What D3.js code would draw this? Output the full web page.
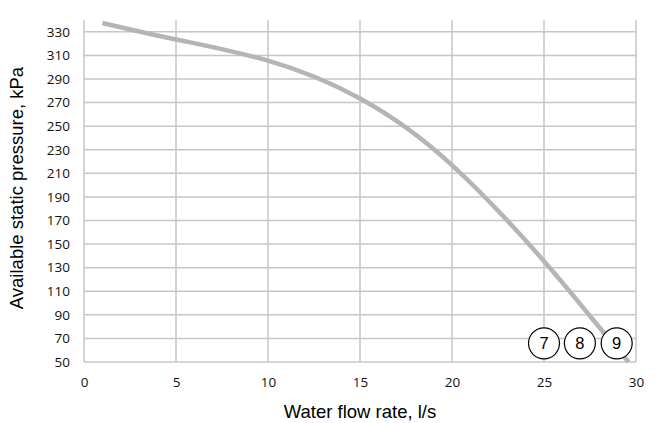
<!DOCTYPE html>
<html>
<head>
<meta charset="utf-8">
<script src="https://cdn.jsdelivr.net/npm/d3@7"></script>
<style>
  body { margin: 0; background: #fff; }
  text { font-family: "Liberation Sans", Arial, sans-serif; }
</style>
</head>
<body>
<script>
// pump curve
const flowRate = [1, 5, 10, 15, 20, 25, 27.5, 29.6];
const pressure = [337.5, 323.5, 305.5, 273.5, 217, 135.5, 89, 50];

const markLabels = ['7', '8', '9'];
const markFlow = [25, 26.95, 28.95];
const markPressure = [65.8, 65.8, 65.8];

const xTicks = [0, 5, 10, 15, 20, 25, 30];
const yTicks = [50, 70, 90, 110, 130, 150, 170, 190, 210, 230, 250, 270, 290, 310, 330];

const W = 656, H = 423;
const margin = { top: 20, right: 20, bottom: 61, left: 84 };

const svg = d3.select('body').append('svg')
  .attr('width', W)
  .attr('height', H);

const x = d3.scaleLinear().domain([0, 30]).range([margin.left, W - margin.right]);
const y = d3.scaleLinear().domain([50, 340]).range([H - margin.bottom, margin.top]);

// grid
svg.append('g')
  .selectAll('line')
  .data(yTicks)
  .join('line')
  .attr('x1', x(0)).attr('x2', x(30))
  .attr('y1', d => y(d)).attr('y2', d => y(d))
  .attr('stroke', '#c6c6c6').attr('stroke-width', 1.5);

svg.append('g')
  .selectAll('line')
  .data(xTicks)
  .join('line')
  .attr('x1', d => x(d)).attr('x2', d => x(d))
  .attr('y1', y(50)).attr('y2', y(340))
  .attr('stroke', '#c6c6c6').attr('stroke-width', 1.5);

// axes (labels only)
const xAxis = svg.append('g')
  .attr('transform', `translate(0,${y(50)})`)
  .call(d3.axisBottom(x).tickValues(xTicks).tickSize(0).tickPadding(15));
const yAxis = svg.append('g')
  .attr('transform', `translate(${x(0)},0)`)
  .call(d3.axisLeft(y).tickValues(yTicks).tickSize(0).tickPadding(14));
[xAxis, yAxis].forEach(g => {
  g.select('.domain').remove();
  g.selectAll('text')
    .attr('font-size', 13.5)
    .attr('fill', '#111')
    .style('font-family', '"Open Sans", "Liberation Sans", sans-serif');
});

// curve
const pts = flowRate.map((f, i) => [f, pressure[i]]);
svg.append('path')
  .datum(pts)
  .attr('fill', 'none')
  .attr('stroke', '#b5b5b5')
  .attr('stroke-width', 4.5)
  .attr('d', d3.line().x(d => x(d[0])).y(d => y(d[1])).curve(d3.curveNatural));

// numbered circles
const marks = svg.append('g')
  .selectAll('g')
  .data(markLabels)
  .join('g')
  .attr('transform', (d, i) => `translate(${x(markFlow[i])},${y(markPressure[i])})`);
marks.append('circle')
  .attr('r', 15.5)
  .attr('fill', '#fff')
  .attr('stroke', '#000')
  .attr('stroke-width', 1.2);
marks.append('text')
  .attr('text-anchor', 'middle')
  .attr('dy', '0.36em')
  .attr('font-size', 16.5)
  .attr('fill', '#000')
  .text(d => d);

// axis titles
svg.append('text')
  .attr('x', (x(0) + x(30)) / 2)
  .attr('y', 418)
  .attr('text-anchor', 'middle')
  .attr('font-size', 18.5)
  .attr('fill', '#000')
  .text('Water flow rate, l/s');

svg.append('text')
  .attr('transform', 'translate(23,188) rotate(-90)')
  .attr('text-anchor', 'middle')
  .attr('font-size', 18.5)
  .attr('fill', '#000')
  .text('Available static pressure, kPa');
</script>
</body>
</html>
